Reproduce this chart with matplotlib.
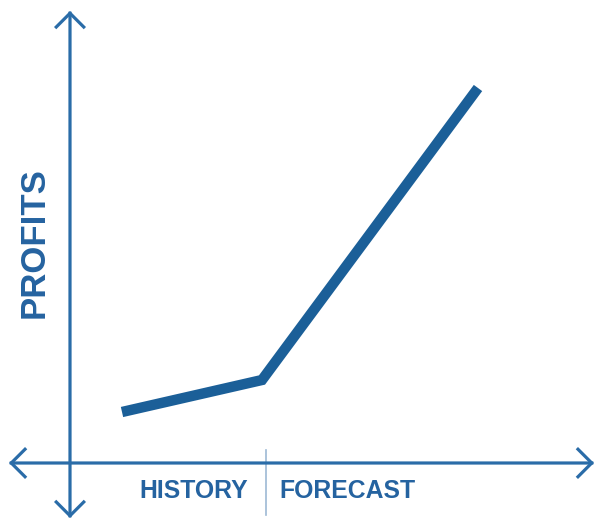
import matplotlib
matplotlib.use("Agg")
import matplotlib.pyplot as plt

# data (units: 1 = 100 px from the axis origin)
periods = [0.52, 1.92, 4.08]
profits = [0.51, 0.83, 3.75]
split_x = 1.96
labels = ["HISTORY", "FORECAST"]
label_x = [1.24, 2.77]
ylabel = "PROFITS"

line_c = "#1b5f98"
axis_c = "#2a6ca8"
text_c = "#2563a0"
div_c = "#9db9d4"

fig = plt.figure(figsize=(5.97, 5.19), dpi=100)
ax = fig.add_axes([0, 0, 1, 1])
ax.set_xlim(-0.70, 5.27)
ax.set_ylim(-0.56, 4.63)
ax.axis("off")

arrow = dict(arrowstyle="<->,head_length=0.55,head_width=0.55",
             color=axis_c, lw=2.3, shrinkA=0, shrinkB=0,
             mutation_scale=18, joinstyle="miter", capstyle="projecting")
ax.annotate("", xy=(0, 4.52), xytext=(0, -0.55), arrowprops=arrow)
ax.annotate("", xy=(5.24, 0), xytext=(-0.61, 0), arrowprops=arrow)

ax.plot([split_x, split_x], [0.13, -0.52], color=div_c, lw=1.2)

ax.plot(periods, profits, color=line_c, lw=7.5, solid_capstyle="butt",
        solid_joinstyle="miter")

for lx, t in zip(label_x, labels):
    ax.text(lx, -0.285, t, ha="center", va="center", fontsize=17.8,
            fontweight="bold", family="Liberation Sans", color=text_c)
ax.text(-0.36, 2.2, ylabel, ha="center", va="center", rotation=90,
        fontsize=25, fontweight="bold", family="Liberation Sans", color=text_c)

fig.savefig("out.png", dpi=100)
